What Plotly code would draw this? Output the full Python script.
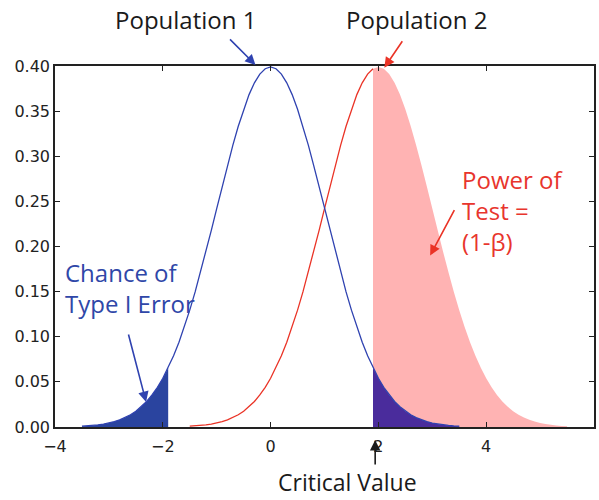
import plotly.graph_objects as go

# Positions along the x axis for each population (sd = 1, +/- 3.5 sd)
x_pop1 = [round(-3.5 + 0.1 * i, 1) for i in range(71)]
x_pop2 = [round(-1.5 + 0.1 * i, 1) for i in range(71)]

# Probability density (same shape for both populations)
density_pop1 = [
    0.0009, 0.0012, 0.0017, 0.0024, 0.0033, 0.0044, 0.0060, 0.0079, 0.0104, 0.0136,
    0.0175, 0.0224, 0.0283, 0.0355, 0.0440, 0.0540, 0.0656, 0.0790, 0.0940, 0.1109,
    0.1295, 0.1497, 0.1714, 0.1942, 0.2179, 0.2420, 0.2661, 0.2897, 0.3123, 0.3332,
    0.3521, 0.3683, 0.3814, 0.3910, 0.3970, 0.3989, 0.3970, 0.3910, 0.3814, 0.3683,
    0.3521, 0.3332, 0.3123, 0.2897, 0.2661, 0.2420, 0.2179, 0.1942, 0.1714, 0.1497,
    0.1295, 0.1109, 0.0940, 0.0790, 0.0656, 0.0540, 0.0440, 0.0355, 0.0283, 0.0224,
    0.0175, 0.0136, 0.0104, 0.0079, 0.0060, 0.0044, 0.0033, 0.0024, 0.0017, 0.0012,
    0.0009,
]
density_pop2 = list(density_pop1)

critical_value = 1.9

x_ticks = [-4, -2, 0, 2, 4, 6]
y_ticks = [0.00, 0.05, 0.10, 0.15, 0.20, 0.25, 0.30, 0.35, 0.40]

BLUE = "#2f42b0"
BLUE_FILL = "#2a449f"
PURPLE_FILL = "#4a2c9c"
RED = "#ea3326"
PINK_FILL = "#ffb3b3"
TEXT_BLUE = "#2f47a8"
TEXT_RED = "#e8352d"
DARK = "#1a1a1a"


def segment(xs, ys, lo, hi):
    pts = [(x, y) for x, y in zip(xs, ys) if lo - 1e-9 <= x <= hi + 1e-9]
    return [p[0] for p in pts], [p[1] for p in pts]


fig = go.Figure()

# Power of the test: area under population 2 beyond the critical value
px, py = segment(x_pop2, density_pop2, critical_value, 99)
fig.add_trace(go.Scatter(x=px, y=py, mode="none", fill="tozeroy",
                         fillcolor=PINK_FILL, hoverinfo="skip"))

# Upper tail of population 1 (overlapping the power region)
ux, uy = segment(x_pop1, density_pop1, critical_value, 99)
fig.add_trace(go.Scatter(x=ux, y=uy, mode="none", fill="tozeroy",
                         fillcolor=PURPLE_FILL, hoverinfo="skip"))

# Lower tail of population 1: chance of a type I error
lx, ly = segment(x_pop1, density_pop1, -99, -critical_value)
fig.add_trace(go.Scatter(x=lx, y=ly, mode="none", fill="tozeroy",
                         fillcolor=BLUE_FILL, hoverinfo="skip"))

# Population 2 curve up to the critical value
rx, ry = segment(x_pop2, density_pop2, -99, critical_value)
fig.add_trace(go.Scatter(x=rx, y=ry, mode="lines",
                         line=dict(color=RED, width=1.3), hoverinfo="skip"))

# Population 1 curve
fig.add_trace(go.Scatter(x=x_pop1, y=density_pop1, mode="lines",
                         line=dict(color=BLUE, width=1.3), hoverinfo="skip"))

LABEL_FONT = "Open Sans"


def label(text, x, y, color, size, xanchor="center", align="center", yref="y"):
    fig.add_annotation(x=x, y=y, xref="x", yref=yref, text=text, showarrow=False,
                       xanchor=xanchor, yanchor="middle", align=align,
                       font=dict(family=LABEL_FONT, size=size, color=color))


def arrow(x, y, ax, ay, color, yref="y"):
    fig.add_annotation(x=x, y=y, xref="x", yref=yref, text="", showarrow=True,
                       ax=ax, ay=ay, arrowhead=2, arrowsize=1.3, arrowwidth=1.6,
                       arrowcolor=color, standoff=0)


# Labels above and below the axes use paper coordinates vertically
label("Population 1", -1.57, 1.130, DARK, 24, yref="paper")
label("Population 2", 2.70, 1.130, DARK, 24, yref="paper")
label("Critical Value", 1.43, -0.153, DARK, 23, yref="paper")
label("Chance of<br>Type I Error", -3.86, 0.154, TEXT_BLUE, 24, "left", "left")
label("Power of<br>Test =<br>(1-β)", 3.51, 0.240, TEXT_RED, 24, "left", "left")

arrow(-0.28, 1.003, -27, -27, BLUE, yref="paper")
arrow(2.11, 0.995, 19, -28, RED, yref="paper")
arrow(1.94, -0.036, 0, 26, DARK, yref="paper")
arrow(-2.31, 0.0277, -18, -69, BLUE)
arrow(2.96, 0.19, 25, -47, RED)

axis_common = dict(showline=True, linecolor="#222222", linewidth=1.5,
                   mirror="allticks", ticks="inside", ticklen=5, tickwidth=1,
                   tickcolor="#222222", showgrid=False, zeroline=False,
                   tickfont=dict(family="DejaVu Sans", size=16, color="#222222"))

fig.update_xaxes(range=[-4, 6], tickvals=x_ticks, ticklabelstandoff=4, **axis_common)
fig.update_yaxes(range=[0, 0.40], tickvals=y_ticks, tickformat=".2f", **axis_common)

fig.update_layout(
    width=599, height=500,
    margin=dict(l=55, r=3, t=66, b=73),
    plot_bgcolor="white", paper_bgcolor="white",
    showlegend=False,
)

fig.write_html("out.html")
